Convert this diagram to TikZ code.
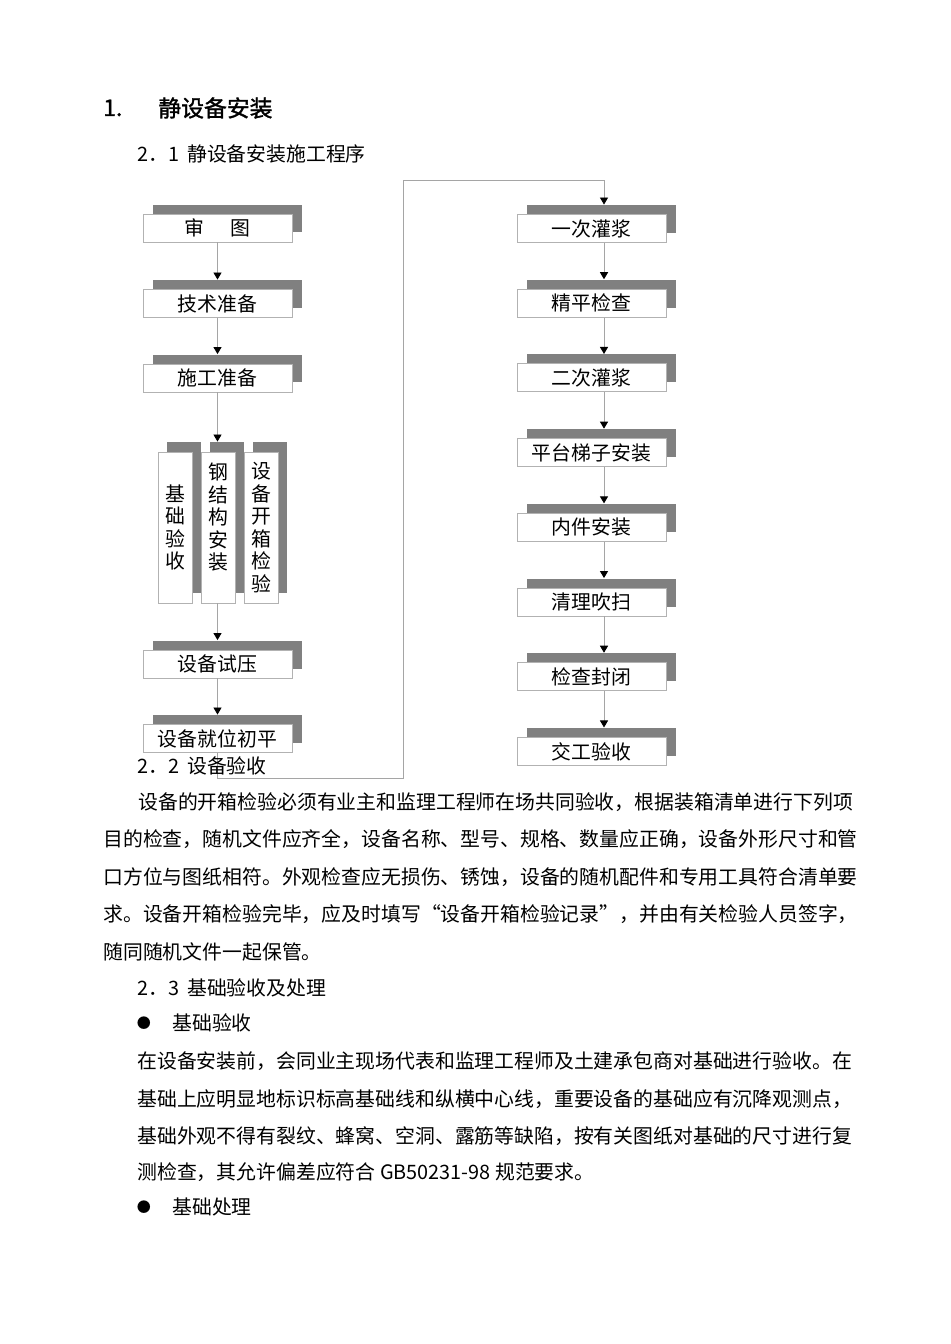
\documentclass[tikz,border=0pt]{standalone}
\usepackage{fontspec}
\setmainfont{Noto Sans CJK SC}[AutoFakeBold=1.5]
\usepackage{tikz}
\usetikzlibrary{arrows.meta,shadows,calc}
\definecolor{shadowgray}{RGB}{128,128,128}
\definecolor{boxgray}{RGB}{178,178,178}
\definecolor{linegray}{RGB}{165,165,165}
\newcommand{\bodyfont}{\fontsize{11.3pt}{13pt}\selectfont}
\newcommand{\secnum}[2]{#1．#2\hspace{0.4em}}
\tikzset{%
    stepbox/.style={%
        draw=boxgray, line width=0.5pt, fill=white, inner sep=0pt,
        minimum width=2.98cm, minimum height=0.56cm, font=\bodyfont,
        general shadow={fill=shadowgray, shadow xshift=0.2cm, shadow yshift=0.19cm}
    },
    stackbox/.style={%
        draw=boxgray, line width=0.5pt, fill=white, inner sep=0pt, align=center,
        minimum width=0.68cm, minimum height=3.02cm,
        font=\fontsize{11.3pt}{12.8pt}\selectfont,
        general shadow={fill=shadowgray, shadow xshift=0.18cm, shadow yshift=0.2cm}
    },
    flow/.style={%
        draw=linegray, line width=0.5pt,
        -{Triangle[width=4.6pt,length=4pt,color=black]}
    },
    txt/.style={anchor=west, inner sep=0pt, font=\bodyfont}
}

\begin{document}
\begin{tikzpicture}[x=0.02cm,y=-0.02cm]
    \useasboundingbox (0,0) rectangle (950,1344);
%-----------------------------------------------
    \node[txt, font=\fontsize{13pt}{15pt}\selectfont\bfseries] (h1num) at (103,108) {1.};
    \node[txt, font=\fontsize{13pt}{15pt}\selectfont\bfseries] (h1) at (158,108) {静设备安装};
    \node[txt] (h21) at (137,154) {\secnum{2}{1}静设备安装施工程序};
%-----------------------------------------------
    \node[stepbox] (shentu) at (217.5,228) {审\hspace{1.35em}图};
    \node[stepbox] (jishu) at (217.5,303.5) {技术准备};
    \node[stepbox] (shigong) at (217.5,378) {施工准备};
    \node[stackbox] (jichu) at (175,527.5) {基\\础\\验\\收};
    \node[stackbox] (gangjg) at (218,527.5) {钢\\结\\构\\安\\装\\~};
    \node[stackbox] (kaixiang) at (261,527.5) {设\\备\\开\\箱\\检\\验};
    \node[stepbox] (shiya) at (217.5,664) {设备试压};
    \node[stepbox] (jiuwei) at (217.5,738.5) {设备就位初平};
%-----------------------------------------------
    \node[stepbox] (guanjiang1) at (591.5,228.5) {一次灌浆};
    \node[stepbox] (jingping) at (591.5,303.2) {精平检查};
    \node[stepbox] (guanjiang2) at (591.5,377.9) {二次灌浆};
    \node[stepbox] (pingtai) at (591.5,452.6) {平台梯子安装};
    \node[stepbox] (neijian) at (591.5,527.3) {内件安装};
    \node[stepbox] (qingli) at (591.5,602) {清理吹扫};
    \node[stepbox] (fengbi) at (591.5,676.7) {检查封闭};
    \node[stepbox] (jiaogong) at (591.5,751.4) {交工验收};
%-----------------------------------------------
    \coordinate (rline) at (604,0);
    \coordinate (lowturn) at (403,778);
    \coordinate (topturn) at (403,180);
    \draw[flow] (shentu.south) -- ([yshift=0.19cm]jishu.north);
    \draw[flow] (jishu.south) -- ([yshift=0.19cm]shigong.north);
    \draw[flow] (shigong.south) -- ($(gangjg.north -| shigong.south)+(0,-10)$);
    \draw[flow] (gangjg.south -| shigong.south) -- ([yshift=0.19cm]shiya.north);
    \draw[flow] (shiya.south) -- ([yshift=0.19cm]jiuwei.north);
    \draw[flow] (jiuwei.south) |- (lowturn) -- (topturn) -| ($(guanjiang1.north -| rline)+(0,-9.5)$);
    \draw[flow] (guanjiang1.south -| rline) -- ($(jingping.north -| rline)+(0,-9.5)$);
    \draw[flow] (jingping.south -| rline) -- ($(guanjiang2.north -| rline)+(0,-9.5)$);
    \draw[flow] (guanjiang2.south -| rline) -- ($(pingtai.north -| rline)+(0,-9.5)$);
    \draw[flow] (pingtai.south -| rline) -- ($(neijian.north -| rline)+(0,-9.5)$);
    \draw[flow] (neijian.south -| rline) -- ($(qingli.north -| rline)+(0,-9.5)$);
    \draw[flow] (qingli.south -| rline) -- ($(fengbi.north -| rline)+(0,-9.5)$);
    \draw[flow] (fengbi.south -| rline) -- ($(jiaogong.north -| rline)+(0,-9.5)$);
%-----------------------------------------------
    \node[txt] (h22) at (137,766) {\secnum{2}{2}设备验收};
    \node[txt] (p1a) at (138,802) {设备的开箱检验必须有业主和监理工程师在场共同验收，根据装箱清单进行下列项};
    \node[txt] (p1b) at (103,839) {目的检查，随机文件应齐全，设备名称、型号、规格、数量应正确，设备外形尺寸和管};
    \node[txt] (p1c) at (103,877) {口方位与图纸相符。外观检查应无损伤、锈蚀，设备的随机配件和专用工具符合清单要};
    \node[txt] (p1d) at (103,914) {求。设备开箱检验完毕，应及时填写“设备开箱检验记录”，并由有关检验人员签字，};
    \node[txt] (p1e) at (103,952) {随同随机文件一起保管。};
%-----------------------------------------------
    \node[txt] (h23) at (137,988) {\secnum{2}{3}基础验收及处理};
    \node[inner sep=0pt, font=\fontsize{8pt}{9pt}\selectfont] (dot1) at (144,1023) {●};
    \node[txt] (b1) at (172,1023) {基础验收};
    \node[txt] (p2a) at (137,1061) {在设备安装前，会同业主现场代表和监理工程师及土建承包商对基础进行验收。在};
    \node[txt] (p2b) at (137,1099) {基础上应明显地标识标高基础线和纵横中心线，重要设备的基础应有沉降观测点，};
    \node[txt] (p2c) at (137,1136) {基础外观不得有裂纹、蜂窝、空洞、露筋等缺陷，按有关图纸对基础的尺寸进行复};
    \node[txt] (p2d) at (137,1172) {测检查，其允许偏差应符合 GB50231-98 规范要求。};
    \node[inner sep=0pt, font=\fontsize{8pt}{9pt}\selectfont] (dot2) at (144,1207) {●};
    \node[txt] (b2) at (172,1207) {基础处理};
\end{tikzpicture}
\end{document}
